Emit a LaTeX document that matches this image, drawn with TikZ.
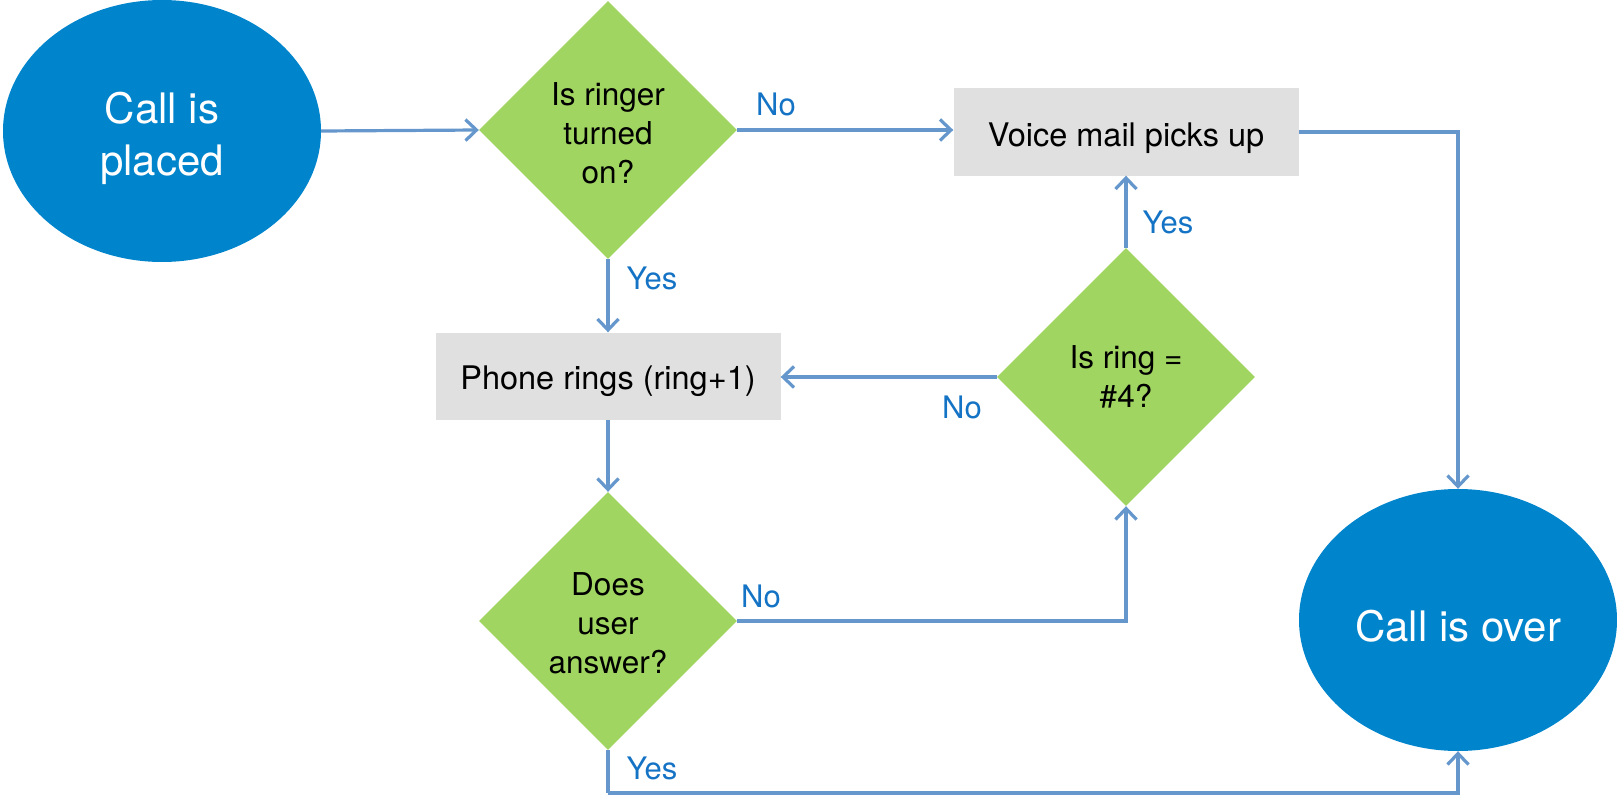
\documentclass[tikz,border=0pt]{standalone}
\usepackage{fontspec}
\setmainfont{TeX Gyre Heros}
\usetikzlibrary{shapes.geometric,arrows.meta}
\definecolor{termblue}{RGB}{0,133,204}
\definecolor{decgreen}{RGB}{161,213,97}
\definecolor{procgray}{RGB}{224,224,224}
\definecolor{linkblue}{RGB}{101,151,204}
\definecolor{lblblue}{RGB}{20,115,196}
\tikzset{
  terminal/.style={ellipse, fill=termblue, minimum width=318pt, minimum height=262pt, inner sep=0pt},
  termtext/.style={text=white, inner sep=0pt, align=center, font=\fontsize{42}{52}\selectfont},
  decision/.style={diamond, fill=decgreen, minimum width=258pt, minimum height=258pt, inner sep=0pt},
  dectext/.style={text=black, inner sep=0pt, align=center, font=\fontsize{31.5}{39}\selectfont},
  process/.style={rectangle, fill=procgray, minimum width=345pt, minimum height=87pt, inner sep=0pt},
  proctext/.style={text=black, inner sep=0pt, font=\fontsize{32.5}{39}\selectfont},
  link/.style={draw=linkblue, line width=3.2pt, -{Straight Barb[length=11pt,width=21pt,line width=3.2pt]}},
  plain link/.style={draw=linkblue, line width=3.2pt},
  lbl/.style={text=lblblue, font=\fontsize{31}{36}\selectfont, inner sep=0pt}
}
\begin{document}
\begin{tikzpicture}[x=1pt,y=-1pt]
\useasboundingbox (0,0) rectangle (1617,797);
\node[terminal, label={[termtext, yshift=-7pt]center:Call is\\placed}] (placed) at (162,131) {};
\node[decision, label={[dectext, yshift=-3pt]center:Is ringer\\turned\\on?}] (d1) at (608,130) {};
\node[process, label={[proctext, yshift=-6pt]center:Voice mail picks up}] (voice) at (1126,132) {};
\node[process, label={[proctext, yshift=-5pt]center:Phone rings (ring+1)}] (phone) at (608,376) {};
\node[decision, label={[dectext]center:Is ring =\\\#4?}] (d2) at (1126,377) {};
\node[decision, label={[dectext, yshift=-2pt]center:Does\\user\\answer?}] (d3) at (608,621) {};
\node[terminal, label={[termtext, yshift=-6pt]center:Call is over}] (over) at (1458,620) {};
\coordinate (bot) at (608,793);

\draw[link] (placed.east) -- (d1.west);
\draw[link] (d1.east) -- (d1.east -| voice.west);
\draw[link] (voice.east) -| (over.north);
\draw[link] (d1.south) -- (phone.north);
\draw[link] (d2.north) -- (voice.south);
\draw[link] (d2.west) -- (d2.west -| phone.east);
\draw[link] (phone.south) -- (d3.north);
\draw[link] (d3.east) -| (d2.south);
\draw[plain link] (d3.south) -- (bot);
\draw[link] (bot) -| (over.south);

\node[lbl] (l1) at (776,104) {No};
\node[lbl] (l2) at (652,278) {Yes};
\node[lbl] (l3) at (1168,222) {Yes};
\node[lbl] (l4) at (962,407) {No};
\node[lbl] (l5) at (761,596) {No};
\node[lbl] (l6) at (652,768) {Yes};
\end{tikzpicture}
\end{document}
